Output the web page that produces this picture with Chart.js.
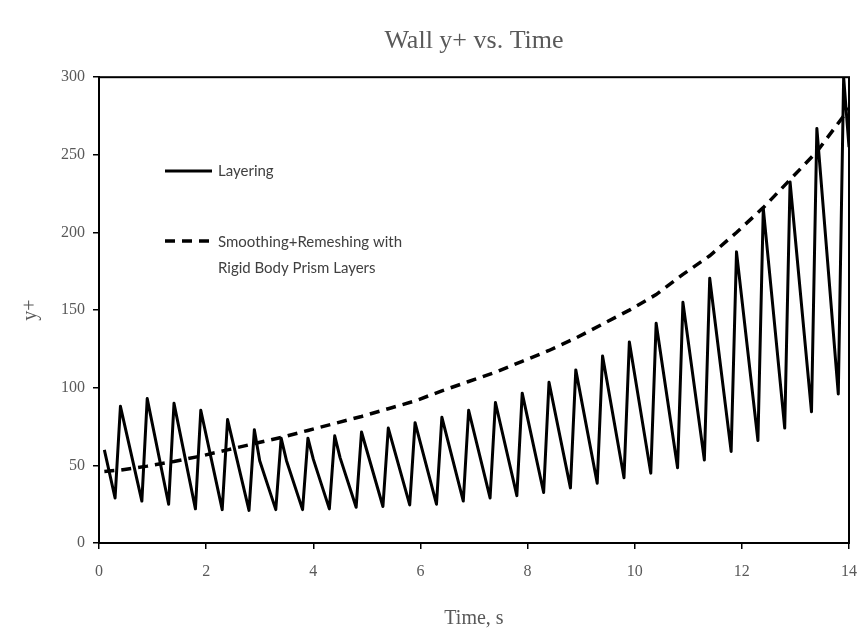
<!DOCTYPE html>
<html>
<head>
<meta charset="utf-8">
<title>Wall y+ vs. Time</title>
<script src="https://cdn.jsdelivr.net/npm/chart.js@4.4.1/dist/chart.umd.min.js"></script>
<style>
    html, body { margin: 0; padding: 0; background: #fff; }
    #grafico { display: block; }
</style>
</head>
<body>
<canvas id="grafico" width="865" height="635"></canvas>
<script>
// 1. Datos: vértices de la serie Layering (picos, codos y valles)
const layeringT = [0.1, 0.3, 0.4, 0.8, 0.9, 1.3, 1.4, 1.8, 1.9, 2.3, 2.4, 2.8, 2.9, 3.0, 3.3, 3.4, 3.5, 3.8,
    3.9, 4.0, 4.3, 4.4, 4.5, 4.8, 4.9, 5.3, 5.4, 5.8, 5.9, 6.3, 6.4, 6.8, 6.9, 7.3, 7.4, 7.8, 7.9, 8.3,
    8.4, 8.8, 8.9, 9.3, 9.4, 9.8, 9.9, 10.3, 10.4, 10.8, 10.9, 11.3, 11.4, 11.8, 11.9, 12.3, 12.4, 12.8,
    12.9, 13.3, 13.4, 13.8, 13.9, 14.0];
const layeringY = [60, 29, 88, 27, 93, 25, 90, 22, 85.5, 21.5, 79.5, 21, 73, 53, 21.5, 67.5, 53, 21.5,
    67.5, 54, 22, 69, 55, 23, 71.5, 23.5, 74, 24.5, 77.5, 25, 81, 27, 85.5, 29, 90.5, 30.5, 96.5, 32.5,
    103.5, 35.5, 111.5, 38.5, 120.5, 42, 129.5, 45, 141.5, 48.5, 155, 53.5, 170.5, 59, 187.5, 66, 215.5, 74,
    232.5, 84.5, 267, 96, 300, 255];

// Serie Smoothing+Remeshing
const smoothT = [0.1, 0.4, 0.9, 1.4, 1.9, 2.4, 2.9, 3.4, 3.9, 4.4, 4.9, 5.4, 5.9, 6.4, 6.9, 7.4, 7.9,
    8.4, 8.9, 9.4, 9.9, 10.4, 10.9, 11.4, 11.9, 12.4, 12.9, 13.4, 13.9, 14.0];
const smoothY = [46, 47, 49.5, 52.5, 56, 60, 64, 68, 72.5, 77, 81.5, 86.5, 91.5, 98, 104, 110, 117,
    124, 132, 141, 150, 160, 173, 185, 200, 216, 234, 252, 275, 280];

// Ejes
const xTicks = [0, 2, 4, 6, 8, 10, 12, 14];
const yTicks = [0, 50, 100, 150, 200, 250, 300];

const etiquetas = ['Layering', 'Smoothing+Remeshing with', 'Rigid Body Prism Layers'];

const gris = '#595959';
const serif = '"Liberation Serif", "Times New Roman", serif';
const sans = 'Lato, "Open Sans", sans-serif';

// 2. Marco del área y leyenda dibujada a mano
const marcoYLeyenda = {
    id: 'marcoYLeyenda',
    afterDraw(chart) {
        const { ctx, chartArea: a } = chart;
        ctx.save();
        ctx.strokeStyle = '#000';
        ctx.lineWidth = 2;
        ctx.strokeRect(a.left, a.top, a.right - a.left, a.bottom - a.top);

        ctx.lineWidth = 3;
        ctx.beginPath();
        ctx.moveTo(165, 171);
        ctx.lineTo(212, 171);
        ctx.stroke();

        ctx.lineWidth = 3.5;
        ctx.setLineDash([10, 7]);
        ctx.beginPath();
        ctx.moveTo(165, 241);
        ctx.lineTo(212, 241);
        ctx.stroke();
        ctx.setLineDash([]);

        ctx.fillStyle = '#404040';
        ctx.font = '15px ' + sans;
        ctx.textBaseline = 'middle';
        ctx.textAlign = 'left';
        ctx.fillText(etiquetas[0], 218, 171);
        ctx.fillText(etiquetas[1], 218, 242);
        ctx.fillText(etiquetas[2], 218, 268);
        ctx.restore();
    }
};

// 3. Gráfico
new Chart(document.getElementById('grafico').getContext('2d'), {
    type: 'line',
    data: {
        datasets: [
            {
                label: etiquetas[0],
                data: layeringT.map((t, i) => ({ x: t, y: layeringY[i] })),
                borderColor: '#000',
                borderWidth: 3,
                borderJoinStyle: 'round',
                pointRadius: 0,
                tension: 0
            },
            {
                label: etiquetas[1] + ' ' + etiquetas[2],
                data: smoothT.map((t, i) => ({ x: t, y: smoothY[i] })),
                borderColor: '#000',
                borderWidth: 3.5,
                borderDash: [10, 7],
                pointRadius: 0,
                tension: 0
            }
        ]
    },
    options: {
        responsive: false,
        animation: false,
        devicePixelRatio: 1,
        layout: { padding: { left: 10, right: 16, top: 0, bottom: 0 } },
        plugins: {
            legend: { display: false },
            tooltip: { enabled: false },
            title: {
                display: true,
                fullSize: false,
                text: 'Wall y+ vs. Time',
                color: gris,
                font: { family: serif, size: 26, weight: 'normal' },
                padding: { top: 26, bottom: 20 }
            }
        },
        scales: {
            x: {
                type: 'linear',
                min: 0,
                max: 14,
                afterFit(scale) {
                    scale.height = 92;
                    scale.paddingLeft = 0;
                    scale.paddingRight = 0;
                },
                afterBuildTicks(scale) { scale.ticks = xTicks.map(v => ({ value: v })); },
                ticks: { color: gris, font: { family: serif, size: 16 }, padding: 13 },
                grid: { display: true, drawOnChartArea: false, tickLength: 6, color: '#000', lineWidth: 1.5 },
                border: { display: true, color: '#000', width: 2 },
                title: {
                    display: true,
                    text: 'Time, s',
                    color: gris,
                    font: { family: serif, size: 20 },
                    padding: { top: 0, bottom: 4 }
                }
            },
            y: {
                min: 0,
                max: 300,
                afterFit(scale) { scale.width = 89; },
                afterBuildTicks(scale) { scale.ticks = yTicks.map(v => ({ value: v })); },
                ticks: { color: gris, font: { family: serif, size: 16 }, padding: 8 },
                grid: { display: true, drawOnChartArea: false, tickLength: 6, color: '#000', lineWidth: 1.5 },
                border: { display: true, color: '#000', width: 2 },
                title: {
                    display: true,
                    text: 'y+',
                    color: gris,
                    font: { family: serif, size: 20 },
                    padding: { top: 9, bottom: 0 }
                }
            }
        }
    },
    plugins: [marcoYLeyenda]
});
</script>
</body>
</html>
